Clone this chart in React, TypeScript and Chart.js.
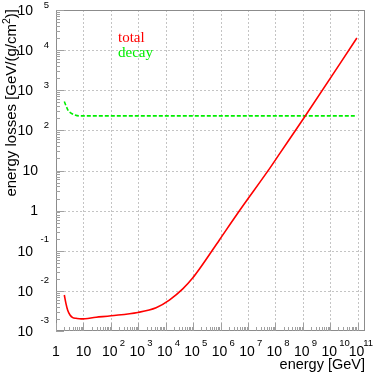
import { useEffect, useRef } from 'react';
import { Chart, registerables } from 'chart.js';

Chart.register(...registerables);

// ---- data ----
const totalEnergy = [2.01, 2.3, 2.67, 3.24, 4.07, 5.4, 8.2, 29, 102, 960, 4470, 1.36e4, 4.2e4, 9.8e4, 1.7e5, 9.1e5, 5.2e6, 5.6e7, 1.5e8, 1.23e9, 9.4e10];
const totalLoss = [7.9e-3, 4.9e-3, 3.3e-3, 2.5e-3, 2.15e-3, 2.07e-3, 2.0e-3, 2.2e-3, 2.4e-3, 2.9e-3, 3.8e-3, 5.9e-3, 0.0112, 0.0212, 0.035, 0.186, 1.05, 10.2, 27.5, 229, 2.0e4];
const decayEnergy = [2.01, 2.32, 2.81, 3.53, 4.66, 7.1, 100, 1e4, 1e6, 1e8, 9.4e10];
const decayLoss = [525, 407, 309, 270, 245, 230, 230, 230, 230, 230, 230];

const xDecades = [0, 1, 2, 3, 4, 5, 6, 7, 8, 9, 10, 11];
const yDecades = [-3, -2, -1, 0, 1, 2, 3, 4, 5];
const X_MIN = 1;
const X_MAX = 1.86e11;
const Y_MIN = 1e-3;
const Y_MAX = 1e5;

const seriesLabels = ['total', 'decay'];
const xTitle = 'energy [GeV]';
const yTitleMain = 'energy losses [GeV/(g/cm';
const yTitleSup = '2';
const yTitleEnd = ')]';

const SANS = '"Liberation Sans", Arial, Helvetica, sans-serif';
const SERIF = '"Liberation Serif", "Times New Roman", serif';

const rootPlugin = {
  id: 'rootFrame',
  beforeDatasetsDraw(chart: any) {
    const { ctx, chartArea: a, scales } = chart;
    const xs = scales.x;
    const ys = scales.y;
    ctx.save();
    ctx.strokeStyle = '#c4c4c4';
    ctx.lineWidth = 1;
    ctx.setLineDash([2, 2]);
    for (const e of xDecades) {
      const px = Math.round(xs.getPixelForValue(Math.pow(10, e))) + 0.5;
      if (px <= a.left + 1 || px >= a.right - 1) continue;
      ctx.beginPath();
      ctx.moveTo(px, a.top);
      ctx.lineTo(px, a.bottom);
      ctx.stroke();
    }
    for (const e of yDecades) {
      const py = Math.round(ys.getPixelForValue(Math.pow(10, e))) + 0.5;
      if (py <= a.top + 1 || py >= a.bottom - 1) continue;
      ctx.beginPath();
      ctx.moveTo(a.left, py);
      ctx.lineTo(a.right, py);
      ctx.stroke();
    }
    ctx.restore();
  },
  afterDatasetsDraw(chart: any) {
    const { ctx, chartArea: a, scales } = chart;
    const xs = scales.x;
    const ys = scales.y;
    ctx.save();
    ctx.setLineDash([]);
    // frame
    ctx.strokeStyle = '#8c8c8c';
    ctx.lineWidth = 1;
    ctx.strokeRect(a.left + 0.5, a.top + 0.5, a.right - a.left - 1, a.bottom - a.top - 1);

    // ticks
    ctx.strokeStyle = '#a0a0a0';
    for (const e of xDecades) {
      for (let k = 1; k <= 9; k++) {
        const v = k * Math.pow(10, e);
        if (v < X_MIN || v > X_MAX) continue;
        const px = Math.round(xs.getPixelForValue(v)) + 0.5;
        const len = k === 1 ? 8 : 4;
        ctx.beginPath();
        ctx.moveTo(px, a.bottom);
        ctx.lineTo(px, a.bottom - len);
        ctx.stroke();
      }
    }
    for (const e of yDecades) {
      for (let k = 1; k <= 9; k++) {
        const v = k * Math.pow(10, e);
        if (v < Y_MIN || v > Y_MAX) continue;
        const py = Math.round(ys.getPixelForValue(v)) + 0.5;
        const len = k === 1 ? 8 : 4;
        ctx.beginPath();
        ctx.moveTo(a.left, py);
        ctx.lineTo(a.left + len, py);
        ctx.stroke();
      }
    }

    // tick labels
    ctx.fillStyle = '#000';
    ctx.textBaseline = 'middle';
    const baseFont = `14px ${SANS}`;
    const expFont = `9.5px ${SANS}`;
    for (const e of yDecades) {
      const py = ys.getPixelForValue(Math.pow(10, e));
      ctx.font = baseFont;
      ctx.textAlign = 'right';
      if (e === 0) {
        ctx.fillText('1', 38, py + 1);
      } else if (e === 1) {
        ctx.fillText('10', 38, py + 1);
      } else {
        ctx.fillText('10', 33, py + 1);
        ctx.font = expFont;
        ctx.fillText(String(e), 49, py - (e > 0 ? 5 : 11));
      }
    }
    for (const e of xDecades) {
      const px = xs.getPixelForValue(Math.pow(10, e));
      const py = 352;
      ctx.font = baseFont;
      if (e === 0) {
        ctx.textAlign = 'center';
        ctx.fillText('1', px, py);
      } else if (e === 1) {
        ctx.textAlign = 'center';
        ctx.fillText('10', px, py);
      } else {
        ctx.textAlign = 'center';
        ctx.fillText('10', px - 1, py);
        ctx.font = expFont;
        ctx.textAlign = 'left';
        const s = String(e);
        const w = ctx.measureText(s).width;
        ctx.fillText(s, Math.min(px + 9, 373 - w), py - 9);
      }
    }

    // x title
    ctx.font = `14.5px ${SANS}`;
    ctx.textAlign = 'right';
    ctx.textBaseline = 'alphabetic';
    ctx.fillText(xTitle, a.right, 369);

    // y title (rotated)
    ctx.save();
    ctx.translate(16, 9);
    ctx.rotate(-Math.PI / 2);
    ctx.textAlign = 'left';
    const tf = `15px ${SANS}`;
    const sf = `10.5px ${SANS}`;
    ctx.font = tf;
    const w1 = ctx.measureText(yTitleMain).width;
    const w3 = ctx.measureText(yTitleEnd).width;
    ctx.font = sf;
    const w2 = ctx.measureText(yTitleSup).width;
    const total = w1 + w2 + w3;
    ctx.font = tf;
    ctx.fillText(yTitleMain, -total, 0);
    ctx.font = sf;
    ctx.fillText(yTitleSup, -total + w1, -6);
    ctx.font = tf;
    ctx.fillText(yTitleEnd, -total + w1 + w2, 0);
    ctx.restore();

    // legend text
    ctx.font = `15px ${SERIF}`;
    ctx.textAlign = 'left';
    ctx.fillStyle = '#ff0000';
    ctx.fillText(seriesLabels[0], 118, 42);
    ctx.fillStyle = '#00ee00';
    ctx.fillText(seriesLabels[1], 118, 57);
    ctx.restore();
  },
};

export default function App() {
  const ref = useRef<HTMLCanvasElement | null>(null);
  useEffect(() => {
    if (!ref.current) return;
    const chart = new Chart(ref.current, {
      type: 'scatter',
      data: {
        datasets: [
          {
            label: seriesLabels[0],
            data: totalEnergy.map((x, i) => ({ x, y: totalLoss[i] })),
            showLine: true,
            borderColor: '#ff0000',
            borderWidth: 1.6,
            pointRadius: 0,
            cubicInterpolationMode: 'monotone',
          },
          {
            label: seriesLabels[1],
            data: decayEnergy.map((x, i) => ({ x, y: decayLoss[i] })),
            showLine: true,
            borderColor: '#00ee00',
            borderWidth: 1.6,
            borderDash: [4, 2],
            pointRadius: 0,
            cubicInterpolationMode: 'monotone',
          },
        ],
      },
      options: {
        responsive: false,
        animation: false,
        devicePixelRatio: 1,
        layout: { padding: { left: 56, top: 10, right: 9, bottom: 43 } },
        plugins: { legend: { display: false }, tooltip: { enabled: false } },
        scales: {
          x: { type: 'logarithmic', min: X_MIN, max: X_MAX, display: false },
          y: { type: 'logarithmic', min: Y_MIN, max: Y_MAX, display: false },
        },
      },
      plugins: [rootPlugin],
    } as any);
    return () => chart.destroy();
  }, []);
  return (
    <div style={{ position: 'absolute', left: 0, top: 0, width: 374, height: 374, background: '#fff' }}>
      <canvas ref={ref} width={374} height={374} style={{ width: 374, height: 374, display: 'block' }} />
    </div>
  );
}
